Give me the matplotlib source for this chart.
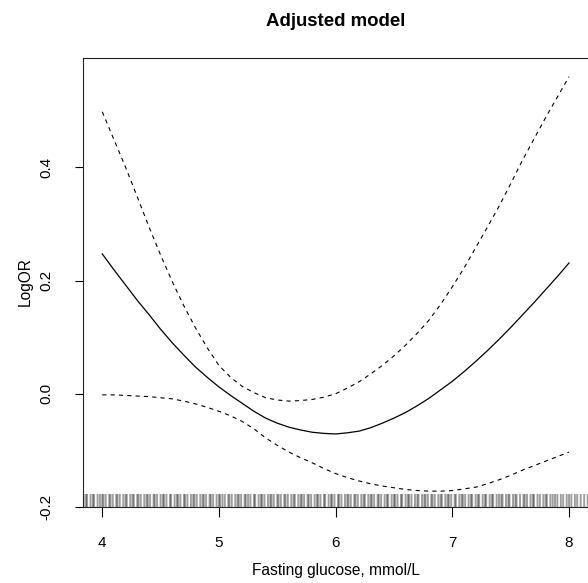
import numpy as np
import matplotlib
matplotlib.use("Agg")
import matplotlib.pyplot as plt

plt.rcParams['font.family'] = ['Liberation Sans', 'DejaVu Sans']
plt.rcParams['lines.scale_dashes'] = False

# fitted spline (log OR) with 95% CI
glucose = [4.0, 4.1, 4.2, 4.3, 4.4, 4.5, 4.6, 4.7, 4.8, 4.9,
           5.0, 5.1, 5.2, 5.3, 5.4, 5.5, 5.6, 5.7, 5.8, 5.9,
           6.0, 6.1, 6.2, 6.3, 6.4, 6.5, 6.6, 6.7, 6.8, 6.9,
           7.0, 7.1, 7.2, 7.3, 7.4, 7.5, 7.6, 7.7, 7.8, 7.9, 8.0]
log_or = [0.247, 0.219, 0.192, 0.165, 0.140, 0.114, 0.090, 0.068, 0.047, 0.029,
          0.012, -0.003, -0.017, -0.031, -0.043, -0.052, -0.059, -0.064, -0.068, -0.070,
          -0.071, -0.069, -0.066, -0.060, -0.052, -0.043, -0.033, -0.021, -0.008, 0.007,
          0.022, 0.039, 0.057, 0.076, 0.096, 0.117, 0.139, 0.161, 0.184, 0.207, 0.231]
ci_upper = [0.498, 0.449, 0.400, 0.348, 0.295, 0.245, 0.198, 0.155, 0.116, 0.081,
            0.050, 0.029, 0.013, 0.002, -0.007, -0.011, -0.013, -0.012, -0.010, -0.006,
            0.000, 0.010, 0.021, 0.035, 0.050, 0.067, 0.086, 0.107, 0.130, 0.158,
            0.189, 0.222, 0.258, 0.294, 0.331, 0.371, 0.412, 0.450, 0.488, 0.524, 0.560]
ci_lower = [-0.002, -0.002, -0.003, -0.004, -0.005, -0.007, -0.009, -0.013, -0.018, -0.024,
            -0.031, -0.039, -0.049, -0.062, -0.078, -0.091, -0.103, -0.113, -0.122, -0.132,
            -0.141, -0.148, -0.154, -0.159, -0.163, -0.166, -0.169, -0.171, -0.172, -0.172,
            -0.171, -0.168, -0.165, -0.159, -0.152, -0.144, -0.135, -0.127, -0.119, -0.111, -0.103]

# observed glucose values (rug)
rug = [3.84, 3.86, 3.87, 3.90, 3.92, 3.93, 3.96, 3.98, 4.00, 4.01, 4.03, 4.06, 4.07, 4.09,
       4.12, 4.13, 4.15, 4.18, 4.20, 4.21, 4.24, 4.26, 4.27, 4.30, 4.31, 4.33, 4.36, 4.38,
       4.39, 4.41, 4.44, 4.45, 4.47, 4.50, 4.52, 4.53, 4.55, 4.58, 4.59, 4.62, 4.64, 4.65,
       4.67, 4.70, 4.71, 4.73, 4.76, 4.78, 4.79, 4.81, 4.84, 4.86, 4.87, 4.89, 4.92, 4.93,
       4.95, 4.98, 5.00, 5.01, 5.03, 5.05, 5.08, 5.09, 5.11, 5.14, 5.16, 5.17, 5.19, 5.22,
       5.23, 5.25, 5.27, 5.30, 5.31, 5.34, 5.36, 5.37, 5.39, 5.42, 5.44, 5.45, 5.47, 5.50,
       5.51, 5.53, 5.56, 5.57, 5.59, 5.62, 5.64, 5.65, 5.68, 5.70, 5.71, 5.73, 5.76, 5.77,
       5.79, 5.82, 5.84, 5.85, 5.87, 5.90, 5.91, 5.94, 5.96, 5.97, 5.99, 6.02, 6.03, 6.05,
       6.08, 6.10, 6.11, 6.13, 6.16, 6.17, 6.19, 6.22, 6.24, 6.25, 6.28, 6.30, 6.31, 6.33,
       6.36, 6.37, 6.39, 6.42, 6.44, 6.45, 6.48, 6.50, 6.51, 6.53, 6.56, 6.57, 6.60, 6.62,
       6.63, 6.65, 6.68, 6.70, 6.71, 6.74, 6.76, 6.77, 6.79, 6.82, 6.83, 6.85, 6.88, 6.90,
       6.91, 6.94, 6.96, 6.97, 6.99, 7.02, 7.03, 7.06, 7.08, 7.09, 7.11, 7.14, 7.16, 7.17,
       7.20, 7.22, 7.23, 7.26, 7.28, 7.29, 7.32, 7.34, 7.35, 7.38, 7.40, 7.42, 7.43, 7.46,
       7.48, 7.49, 7.52, 7.54, 7.55, 7.58, 7.61, 7.62, 7.64, 7.67, 7.69, 7.70, 7.73, 7.75,
       7.78, 7.80, 7.81, 7.84, 7.86, 7.88, 7.90, 7.93, 7.95, 7.98, 8.00, 8.02, 8.05, 8.07,
       8.10, 8.13, 8.16, 8.18]

x_ticks = [4, 5, 6, 7, 8]
y_ticks = [-0.2, 0.0, 0.2, 0.4]

fig = plt.figure(figsize=(5.88, 5.83), dpi=100)
ax = fig.add_axes([83/588, 1 - 507/583, 511/588, 449/583])

ax.plot(glucose, log_or, color='black', lw=0.9)
ax.plot(glucose, ci_upper, color='black', lw=0.8, dashes=(3, 3))
ax.plot(glucose, ci_lower, color='black', lw=0.8, dashes=(3, 3))
ax.vlines(rug, 0, 0.029, transform=ax.get_xaxis_transform(), color='black',
          lw=1.4, alpha=0.38, snap=False)

ax.set_xlim(3.835, 8.214)
ax.set_ylim(-0.2, 0.593)
ax.set_xticks(x_ticks)
ax.set_xticklabels([str(v) for v in x_ticks])
ax.set_yticks(y_ticks)
ax.set_yticklabels(['%.1f' % v for v in y_ticks], rotation=90, va='center')
ax.tick_params(axis='x', length=7, width=0.8, pad=14, labelsize=11)
ax.tick_params(axis='y', length=6, width=0.8, pad=15, labelsize=11)
for s in ax.spines.values():
    s.set_linewidth(0.8)
    s.set_color('#222222')

fig.text(336/588, 1 - 22/583, 'Adjusted model', ha='center', va='center', fontsize=13.4, fontweight='bold')
fig.text(336/588, 1 - 570/583, 'Fasting glucose, mmol/L', ha='center', va='center', fontsize=11.2)
fig.text(25/588, 1 - 282/583, 'LogOR', ha='center', va='center', rotation=90, fontsize=11.2)

fig.savefig('out.png', dpi=100)
